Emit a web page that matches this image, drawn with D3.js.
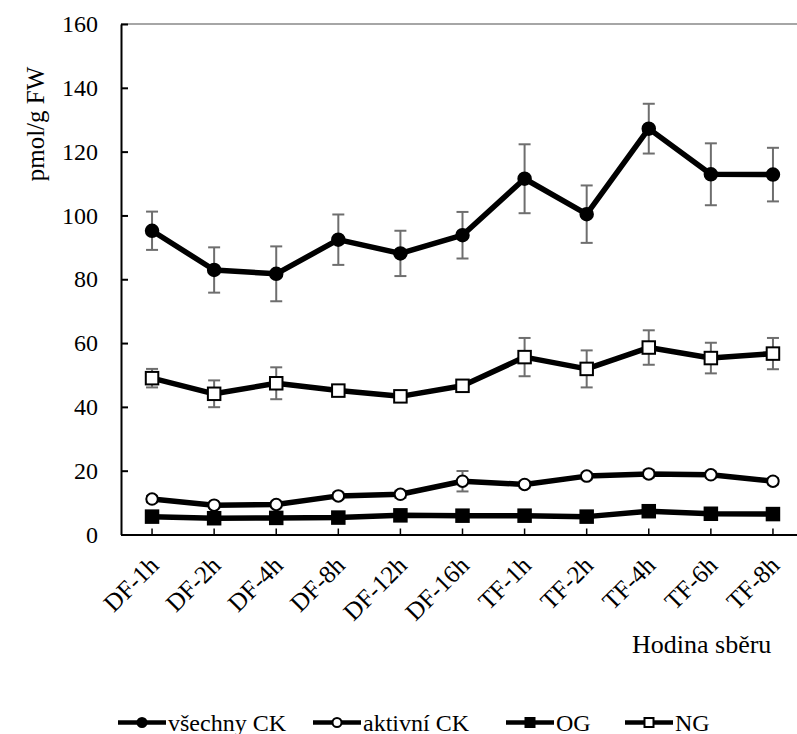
<!DOCTYPE html>
<html>
<head>
<meta charset="utf-8">
<script src="https://cdn.jsdelivr.net/npm/d3@7"></script>
<style>
  body { margin: 0; background: #fff; }
  svg { font-family: "Liberation Serif", "Times New Roman", serif; }
  text { font-family: "Liberation Serif", "Times New Roman", serif; fill: #000; }
</style>
</head>
<body>
<script>
// categories (hodina sběru)
const categories = ["DF-1h", "DF-2h", "DF-4h", "DF-8h", "DF-12h", "DF-16h",
                    "TF-1h", "TF-2h", "TF-4h", "TF-6h", "TF-8h"];

// všechny CK
const allCK    = [95.2, 82.9, 81.7, 92.4, 88.1, 93.8, 111.5, 100.4, 127.2, 112.9, 112.8];
const allCKErr = [6.0, 7.1, 8.6, 7.9, 7.1, 7.3, 10.8, 9.0, 7.8, 9.7, 8.4];
// aktivní CK
const actCK    = [11.1, 9.2, 9.4, 12.1, 12.6, 16.7, 15.7, 18.3, 19.0, 18.7, 16.7];
const actCKErr = [1.0, 0.8, 0.9, 1.0, 1.1, 3.2, 1.0, 1.0, 1.1, 1.0, 1.0];
// OG
const og       = [5.6, 5.1, 5.2, 5.3, 6.0, 5.9, 5.9, 5.6, 7.3, 6.5, 6.4];
const ogErr    = [0.5, 0.5, 0.5, 0.5, 0.6, 0.5, 0.6, 0.5, 0.7, 0.6, 0.6];
// NG
const ng       = [49.0, 44.1, 47.4, 45.1, 43.3, 46.6, 55.6, 51.9, 58.6, 55.3, 56.7];
const ngErr    = [2.9, 4.2, 5.0, 1.5, 1.5, 1.5, 6.0, 5.8, 5.4, 4.8, 4.9];

const yTicks = [0, 20, 40, 60, 80, 100, 120, 140, 160];

const series = [
  { name: "všechny CK", values: allCK, err: allCKErr, shape: "circle", fill: "#000" },
  { name: "aktivní CK", values: actCK, err: actCKErr, shape: "circle", fill: "#fff" },
  { name: "OG",         values: og,    err: ogErr,    shape: "square", fill: "#000" },
  { name: "NG",         values: ng,    err: ngErr,    shape: "square", fill: "#fff" }
];

const width = 797, height = 734;

const svg = d3.select("body").append("svg")
  .attr("width", width)
  .attr("height", height);

const x = d3.scaleBand().domain(categories).range([121, 804]).padding(0);
const cx = d => x(d) + x.bandwidth() / 2;
const y = d3.scaleLinear().domain([0, 160]).range([534.5, 24]);

// top border line
svg.append("line")
  .attr("x1", 121).attr("x2", width)
  .attr("y1", y(160)).attr("y2", y(160))
  .attr("stroke", "#a6a6a6").attr("stroke-width", 2);

// y axis
const yAxis = svg.append("g")
  .attr("transform", "translate(121,0)")
  .call(d3.axisLeft(y).tickValues(yTicks).tickSize(-7).tickSizeOuter(0).tickPadding(23));
yAxis.attr("font-family", null).attr("font-size", null);
yAxis.select(".domain").attr("stroke", "#000").attr("stroke-width", 2);
yAxis.selectAll(".tick line").attr("stroke", "#000").attr("stroke-width", 2);
yAxis.selectAll(".tick text")
  .attr("font-size", 24)
  .attr("dy", "0.32em");

// x axis
const xAxis = svg.append("g")
  .attr("transform", `translate(0,${y(0)})`)
  .call(d3.axisBottom(x).tickSize(-6).tickSizeOuter(0).tickFormat(""));
xAxis.select(".domain").attr("stroke", "#000").attr("stroke-width", 2);
xAxis.selectAll(".tick line").attr("stroke", "#000").attr("stroke-width", 1.5);

// rotated category labels
svg.append("g").selectAll("text")
  .data(categories)
  .join("text")
  .attr("text-anchor", "end")
  .attr("font-size", 25)
  .attr("transform", d => `translate(${cx(d) + 8},${567}) rotate(-45)`)
  .text(d => d);

// axis titles
svg.append("text")
  .attr("x", 632).attr("y", 653)
  .attr("font-size", 26)
  .text("Hodina sběru");

svg.append("text")
  .attr("transform", `translate(44,124) rotate(-90)`)
  .attr("text-anchor", "middle")
  .attr("font-size", 25)
  .text("pmol/g FW");

// error bars
const eb = svg.append("g").attr("stroke", "#6e6e6e").attr("stroke-width", 2);
series.forEach(s => {
  categories.forEach((c, i) => {
    const xc = cx(c), top = y(s.values[i] + s.err[i]), bot = y(s.values[i] - s.err[i]);
    eb.append("line").attr("x1", xc).attr("x2", xc).attr("y1", top).attr("y2", bot);
    eb.append("line").attr("x1", xc - 6).attr("x2", xc + 6).attr("y1", top).attr("y2", top);
    eb.append("line").attr("x1", xc - 6).attr("x2", xc + 6).attr("y1", bot).attr("y2", bot);
  });
});

// lines
const line = d3.line().x((d, i) => cx(categories[i])).y(d => y(d));
series.forEach(s => {
  svg.append("path")
    .datum(s.values)
    .attr("fill", "none")
    .attr("stroke", "#000")
    .attr("stroke-width", 5.5)
    .attr("stroke-linejoin", "round")
    .attr("d", line);
});

function marker(g, shape, fill, px, py, size) {
  if (shape === "circle") {
    g.append("circle")
      .attr("cx", px).attr("cy", py).attr("r", size / 2)
      .attr("fill", fill).attr("stroke", "#000").attr("stroke-width", 2);
  } else {
    g.append("rect")
      .attr("x", px - size / 2).attr("y", py - size / 2)
      .attr("width", size).attr("height", size)
      .attr("fill", fill).attr("stroke", "#000").attr("stroke-width", 2);
  }
}

// markers
const mk = svg.append("g");
series.forEach(s => {
  s.values.forEach((v, i) => {
    const size = s.shape === "circle" ? (s.fill === "#000" ? 12.5 : 11.5) : 12.5;
    marker(mk, s.shape, s.fill, cx(categories[i]), y(v), size);
  });
});

// legend
const legendX = [118, 313, 506, 625];
const lg = svg.append("g");
series.forEach((s, i) => {
  const lx = legendX[i], ly = 722.5;
  lg.append("line")
    .attr("x1", lx).attr("x2", lx + 48)
    .attr("y1", ly).attr("y2", ly)
    .attr("stroke", "#000").attr("stroke-width", 4.5);
  marker(lg, s.shape, s.fill, lx + 24, ly, s.shape === "circle" ? 9 : 9);
  lg.append("text")
    .attr("x", lx + 50).attr("y", ly + 8)
    .attr("font-size", 24)
    .text(s.name);
});
</script>
</body>
</html>
